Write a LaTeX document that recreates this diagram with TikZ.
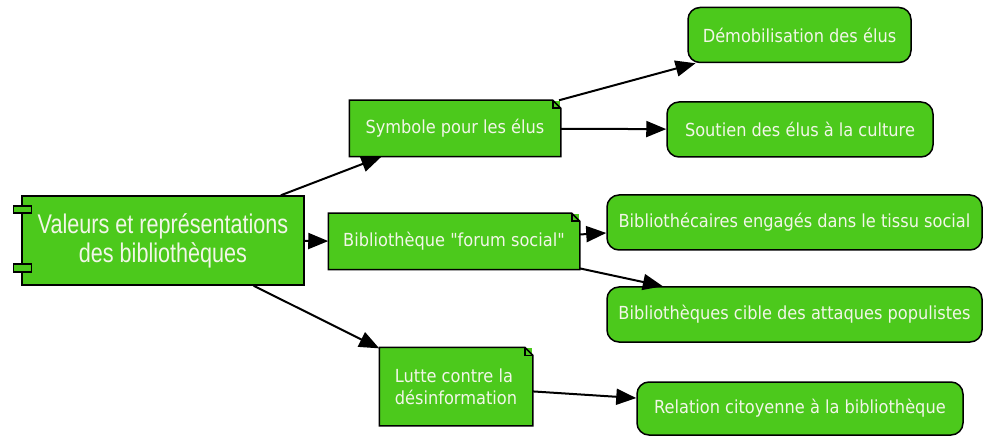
\documentclass[tikz,border=0pt]{standalone}
\usepackage{fontspec}
\setmainfont{DejaVu Sans Condensed}[Ligatures=TeXOff]
\newfontfamily\rootfont[FakeStretch=0.8]{Liberation Sans}
\usetikzlibrary{arrows.meta,calc}

\definecolor{boxgreen}{RGB}{76,201,28}
\definecolor{boxtext}{RGB}{242,246,232}

\tikzset{every picture/.style={line width=1.5pt}}
\tikzset{
	rootbox/.style={draw, fill=boxgreen, text=boxtext, align=center, inner sep=0pt,
		minimum width=282, minimum height=89, font=\rootfont\fontsize{27}{29}\selectfont},
	notebox/.style={fill=boxgreen, text=boxtext, align=left, inner sep=0pt,
		font=\fontsize{18}{22}\selectfont},
	leafbox/.style={draw, fill=boxgreen, text=boxtext, rounded corners=12, inner sep=0pt,
		minimum height=55, font=\fontsize{18}{22}\selectfont},
	link/.style={-{Triangle[length=20pt,width=16pt]}, line width=2pt}
}

% folded corner of a note
\newcommand{\notefold}[1]{%
	\draw (#1.south west) -- (#1.north west) -- ($(#1.north east)+(-8,0)$) -- ($(#1.north east)+(0,8)$) -- (#1.south east) -- cycle;
	\draw ($(#1.north east)+(-8,0)$) -- ($(#1.north east)+(-8,8)$) -- ($(#1.north east)+(0,8)$);}

\begin{document}
\begin{tikzpicture}[x=1pt,y=1pt,yscale=-1,xscale=1]
	\useasboundingbox (0,0) rectangle (985,438);

	% root component
	\node[rootbox] (valeurs) at (163,240.5) {Valeurs et représentations\\des bibliothèques};
	\draw[fill=boxgreen] ($(valeurs.north west)+(-8,11)$) rectangle ++(18,7);
	\draw[fill=boxgreen] ($(valeurs.north west)+(-8,69)$) rectangle ++(18,8);

	% notes
	\node[notebox, minimum width=210, minimum height=55] (symbole) at (455,128.5) {Symbole pour les élus};
	\notefold{symbole}
	\node[notebox, minimum width=250, minimum height=55] (forum) at (454,241.5) {Bibliothèque "forum social"};
	\notefold{forum}
	\node[notebox, minimum width=152, minimum height=77] (lutte) at (456,386.5) {Lutte contre la\\désinformation};
	\notefold{lutte}

	% leaves
	\node[leafbox, minimum width=223] (demob) at (799.5,35) {Démobilisation des élus};
	\node[leafbox, minimum width=266] (soutien) at (800,129.5) {Soutien des élus à la culture};
	\node[leafbox, minimum width=375] (engages) at (794.5,222.5) {Bibliothécaires engagés dans le tissu social};
	\node[leafbox, minimum width=375] (cible) at (794.5,314.5) {Bibliothèques cible des attaques populistes};
	\node[leafbox, minimum width=326, minimum height=53] (relation) at (800,408.5) {Relation citoyenne à la bibliothèque};

	% links
	\draw[link] (valeurs) -- (symbole);
	\draw[link] (valeurs) -- (forum);
	\draw[link] (valeurs) -- (lutte);
	\draw[link] (symbole) -- (demob);
	\draw[link] (symbole) -- (soutien);
	\draw[link] (forum) -- (engages);
	\draw[link] (forum) -- (cible);
	\draw[link] (lutte) -- (relation);

\end{tikzpicture}
\end{document}
